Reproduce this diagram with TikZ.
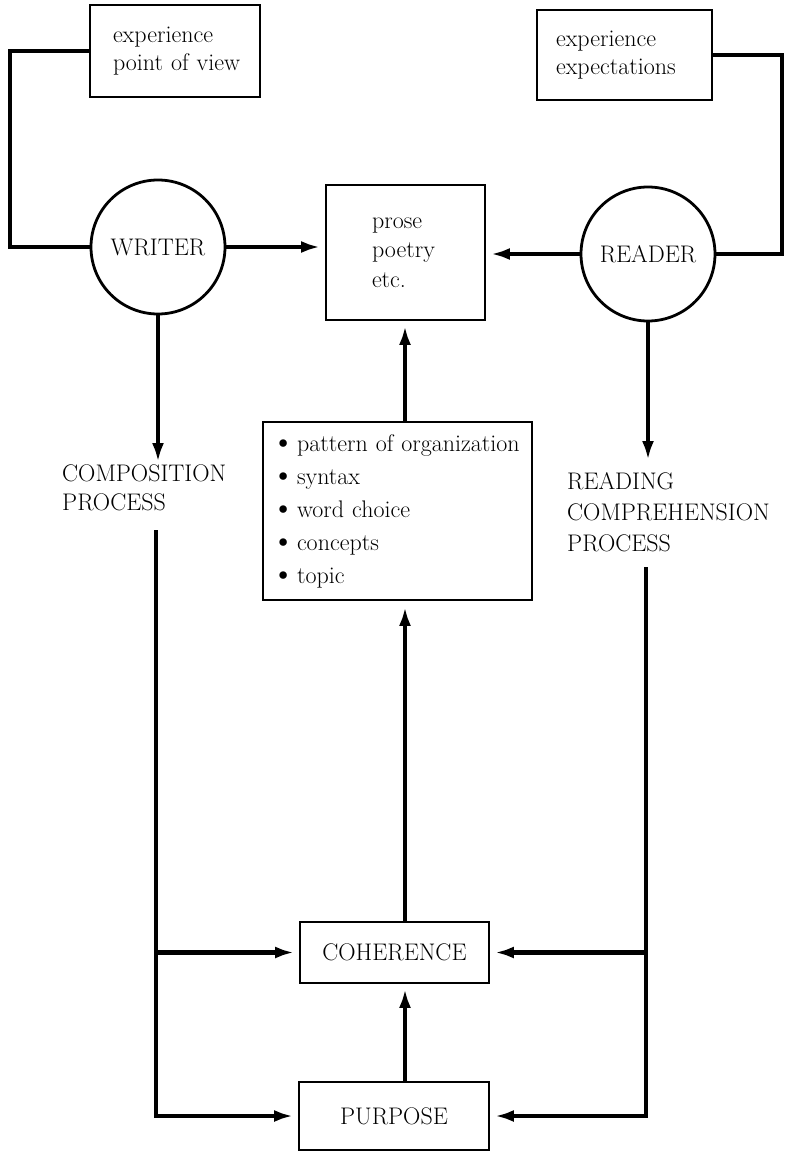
\documentclass[tikz,border=0pt]{standalone}
\usepackage{graphicx}
\usetikzlibrary{arrows.meta}
\newcommand{\mybul}{\makebox[20pt][l]{\hspace{-6pt}\raisebox{-0.15ex}{\scalebox{1.4}{\textbullet}}}}
\begin{document}
\begin{tikzpicture}[x=1pt,y=-1pt,
  font=\fontsize{24}{28}\selectfont,
  box/.style={draw, line width=1.8pt, rectangle, inner sep=0pt, align=left},
  circ/.style={draw, circle, line width=2.8pt, minimum size=134pt, inner sep=0pt},
  conn/.style={line width=4.5pt, line join=miter},
  arr/.style={conn, -{Latex[length=19pt,width=12pt]}, shorten >=5pt},
  lbl/.style={align=left, inner sep=0pt, anchor=west}]
\useasboundingbox (0,0) rectangle (786,1153);
\fill[white] (0,0) rectangle (786,1153);

% boxes and circles
\node[box, minimum height=92pt, text width=124pt, inner xsep=23pt] (epov) at (175,51) {\mbox{experience}\\\mbox{point of view}};
\node[box, minimum height=90pt, text width=137pt, inner xsep=19pt] (eexp) at (624.5,55) {\mbox{experience}\\\mbox{expectations}};
\node[box, minimum height=135pt, text width=67pt, inner xsep=46pt, font=\fontsize{24}{29.5}\selectfont] (prose) at (405.5,252.5) {prose\\poetry\\etc.};
\node[circ] (writer) at (158,247) {WRITER};
\node[circ] (reader) at (648,254) {READER};
\node[box, minimum height=178pt, text width=241pt, inner xsep=14pt, font=\fontsize{24}{33}\selectfont] (feat) at (397.5,511)
  {\mbox{\mybul pattern of organization}\\\mybul syntax\\\mybul word choice\\\mybul concepts\\\mybul topic};
\node[lbl, font=\fontsize{24}{29}\selectfont] (comp) at (62,488) {COMPOSITION\\PROCESS};
\node[lbl, font=\fontsize{24}{31}\selectfont] (rcp) at (567,512) {READING\\COMPREHENSION\\PROCESS};
\node[box, minimum width=189pt, minimum height=61pt, align=center] (coh) at (394.5,952.5) {COHERENCE};
\node[box, minimum width=190pt, minimum height=68pt, align=center] (purp) at (394,1116) {PURPOSE};

% helper coordinates
\coordinate (lc) at (10,0);
\coordinate (rc) at (782,0);
\coordinate (wtip) at (157,462);
\coordinate (ltop) at (156,530);
\coordinate (rtip) at (648,460);
\coordinate (rtop) at (646,567);
\coordinate (mx) at (405,0);

% connectors
\draw[conn] (epov.west) -- (epov.west -| lc) |- (writer.west);
\draw[conn] (eexp.east) -- (eexp.east -| rc) |- (reader.east);
\draw[arr] (writer.east) -- (writer.east -| prose.west);
\draw[arr] (reader.west) -- (reader.west -| prose.east);
\draw[arr, shorten >=0pt] (writer.south) -- (writer.south |- wtip);
\draw[arr, shorten >=0pt] (reader.south) -- (reader.south |- rtip);
\draw[arr] (ltop) |- (purp.west);
\draw[arr] (ltop |- coh.west) -- (coh.west);
\draw[arr] (rtop) |- (purp.east);
\draw[arr] (rtop |- coh.east) -- (coh.east);
\draw[arr] (feat.north -| mx) -- (prose.south -| mx);
\draw[arr, shorten >=6pt] (coh.north -| mx) -- (feat.south -| mx);
\draw[arr] (purp.north -| mx) -- (coh.south -| mx);
\end{tikzpicture}
\end{document}
